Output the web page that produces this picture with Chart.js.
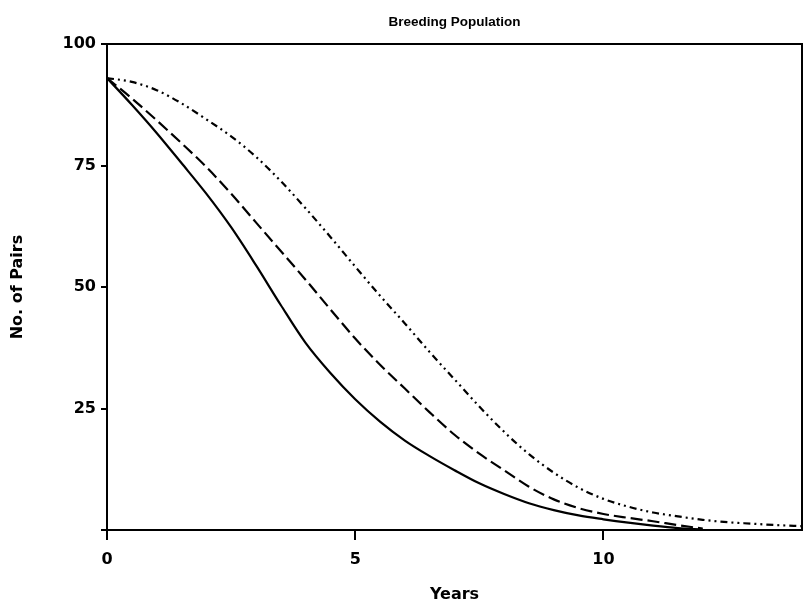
<!DOCTYPE html>
<html>
<head>
<meta charset="utf-8">
<script src="https://cdn.jsdelivr.net/npm/chart.js@4/dist/chart.umd.min.js"></script>
<style>
  html, body { margin: 0; padding: 0; background: #ffffff; }
  #wrap { width: 804px; height: 606px; }
</style>
</head>
<body>
<div id="wrap"><canvas id="c" width="804" height="606"></canvas></div>
<script>
const years = [0, 0.5, 1, 1.5, 2, 2.5, 3, 3.5, 4, 4.5, 5, 5.5, 6, 6.5, 7, 7.5, 8, 8.5, 9, 9.5, 10, 10.5, 11, 11.5, 12, 12.5, 13, 13.5, 14];
const solidPairs = [93, 87.5, 81.7, 75.5, 69.2, 62.3, 54.5, 46.3, 38.5, 32.3, 26.9, 22.3, 18.4, 15.2, 12.3, 9.6, 7.4, 5.5, 4.1, 3.0, 2.2, 1.5, 0.9, 0.4, 0.1];
const dashedPairs = [93, 88.8, 84.3, 79.6, 74.7, 69.2, 63.3, 57.4, 51.5, 45.4, 39.4, 34.0, 29.1, 24.2, 19.6, 15.7, 12.3, 8.9, 6.3, 4.5, 3.3, 2.5, 1.8, 1.0, 0.3];
const dashDotPairs = [93, 92.2, 90.5, 87.8, 84.5, 81.0, 76.8, 71.8, 66.2, 60.3, 54.2, 48.2, 42.5, 36.6, 31.0, 25.4, 20.2, 15.6, 11.8, 8.7, 6.4, 4.8, 3.6, 2.8, 2.1, 1.6, 1.3, 1.0, 0.8];
const xTickValues = [0, 5, 10];
const yTickValues = [0, 25, 50, 75, 100];
const chartTitle = 'Breeding Population';
const xTitle = 'Years';
const yTitle = 'No. of Pairs';

function toPoints(vals) { return vals.map((v, i) => ({ x: years[i], y: v })); }

const framePlugin = {
  id: 'frame',
  afterDatasetsDraw(chart) {
    const { ctx, chartArea: a } = chart;
    ctx.save();
    ctx.strokeStyle = '#000';
    ctx.lineWidth = 2;
    ctx.beginPath();
    ctx.moveTo(a.left, a.top);
    ctx.lineTo(a.right, a.top);
    ctx.lineTo(a.right, a.bottom);
    ctx.stroke();
    ctx.restore();
  }
};

const tickFont = { family: 'DejaVu Sans', weight: 'bold', size: 16 };

new Chart(document.getElementById('c'), {
  type: 'line',
  data: {
    datasets: [
      { data: toPoints(solidPairs), borderColor: '#000', borderWidth: 2.2, pointRadius: 0, cubicInterpolationMode: 'monotone', fill: false },
      { data: toPoints(dashedPairs), borderColor: '#000', borderWidth: 2.2, borderDash: [12, 5], pointRadius: 0, cubicInterpolationMode: 'monotone', fill: false },
      { data: toPoints(dashDotPairs), borderColor: '#000', borderWidth: 2.2, borderDash: [7, 4, 2, 4, 2, 4], pointRadius: 0, cubicInterpolationMode: 'monotone', fill: false }
    ]
  },
  options: {
    responsive: false,
    animation: false,
    devicePixelRatio: 1,
    layout: { padding: { left: 0, right: 2, top: 0, bottom: 0 } },
    plugins: {
      legend: { display: false },
      tooltip: { enabled: false },
      title: { display: false }
    },
    scales: {
      x: {
        type: 'linear', min: 0, max: 14,
        afterBuildTicks(s) { s.ticks = xTickValues.map(v => ({ value: v })); },
        afterFit(s) { s.height = 76; },
        ticks: { color: '#000', font: tickFont, padding: 10, maxRotation: 0 },
        grid: { drawOnChartArea: false, tickLength: 10, color: '#000', lineWidth: 2 },
        border: { display: true, color: '#000', width: 2 },
        title: { display: true, text: xTitle, color: '#000', font: tickFont, padding: { top: 0, bottom: 2 } }
      },
      x2: {
        type: 'linear', position: 'top', min: 0, max: 14,
        afterFit(s) { s.height = 44; },
        ticks: { display: false },
        grid: { display: false, drawTicks: false },
        border: { display: false },
        title: {
          display: true, text: chartTitle, color: '#000',
          font: { family: 'Liberation Sans', weight: 'bold', size: 13.5 },
          padding: { top: 14, bottom: 0 }
        }
      },
      y: {
        type: 'linear', min: 0, max: 100,
        afterBuildTicks(s) { s.ticks = yTickValues.map(v => ({ value: v })); },
        afterFit(s) { s.width = 107; },
        ticks: { color: '#000', font: tickFont, padding: 5, callback: v => (v === 0 ? '' : String(v)) },
        grid: { drawOnChartArea: false, tickLength: 6, color: '#000', lineWidth: 2 },
        border: { display: true, color: '#000', width: 2 },
        title: { display: true, text: yTitle, color: '#000', font: tickFont, padding: { top: 8, bottom: 0 } }
      }
    }
  },
  plugins: [framePlugin]
});
</script>
</body>
</html>
